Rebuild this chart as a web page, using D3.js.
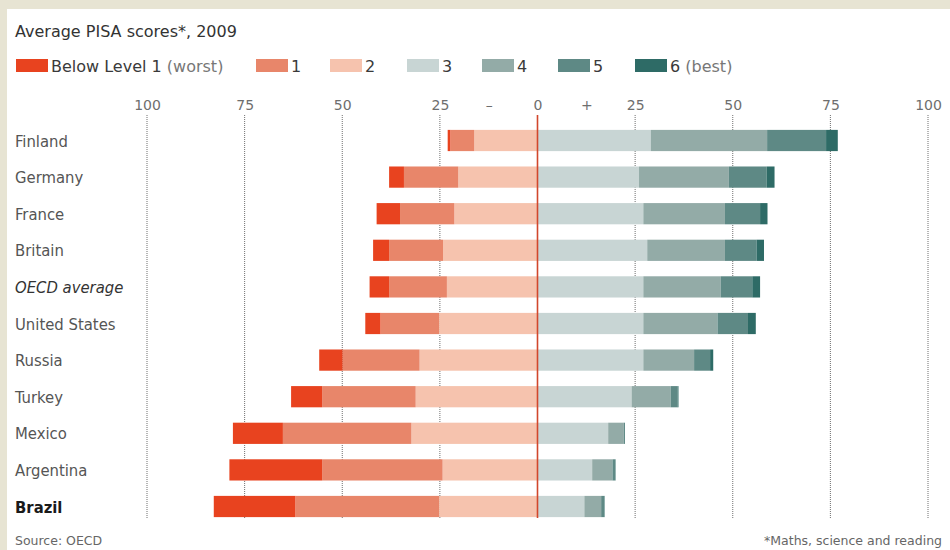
<!DOCTYPE html>
<html>
<head>
<meta charset="utf-8">
<script src="https://cdn.jsdelivr.net/npm/d3@7"></script>
<style>
  body { margin: 0; background: #e7e4d3; }
  svg { display: block; }
</style>
</head>
<body>
<script>
'use strict';

// share of students at each proficiency level, per cent
const countries = ["Finland", "Germany", "France", "Britain", "OECD average", "United States",
  "Russia", "Turkey", "Mexico", "Argentina", "Brazil"];
const belowLevel1 = [0.7, 3.8, 6.0, 4.1, 5.0, 3.9, 6.0, 8.0, 12.8, 23.8, 20.9];
const level1 = [6.1, 13.9, 13.9, 13.8, 14.8, 15.0, 19.7, 23.9, 32.9, 30.8, 36.8];
const level2 = [16.2, 20.3, 21.3, 24.2, 23.2, 25.2, 30.2, 31.2, 32.3, 24.3, 25.2];
const level3 = [29.0, 26.0, 27.1, 28.1, 27.1, 27.1, 27.1, 24.1, 18.1, 14.0, 12.0];
const level4 = [29.8, 23.0, 20.9, 19.9, 19.8, 19.0, 13.0, 10.0, 4.0, 5.2, 4.3];
const level5 = [15.1, 9.7, 9.0, 8.1, 8.1, 7.8, 4.1, 1.8, 0.3, 0.7, 0.8];
const level6 = [3.0, 2.0, 1.9, 1.9, 2.0, 2.0, 0.8, 0.2, 0.0, 0.1, 0.1];

const tickValues = [-100, -75, -50, -25, -12.5, 0, 12.5, 25, 50, 75, 100];
const tickLabels = ["100", "75", "50", "25", "\u2013", "0", "+", "25", "50", "75", "100"];
const gridValues = [-100, -75, -50, -25, 25, 50, 75, 100];

const legendLabels = ["Below Level 1", "1", "2", "3", "4", "5", "6"];
const legendNotes = ["(worst)", "", "", "", "", "", "(best)"];

const keys = ["b1", "l1", "l2", "l3", "l4", "l5", "l6"];
const colors = ["#e8431f", "#e8866a", "#f6c3ae", "#c8d5d4", "#93aba7", "#5e8985", "#2e6b66"];

const width = 950, height = 550;
const font = "'DejaVu Sans', sans-serif";
const condensed = "'DejaVu Sans Condensed', 'DejaVu Sans', sans-serif";

let svg = d3.select("body").append("svg")
  .attr("width", width)
  .attr("height", height);

// white panel over the textured page
svg.append("rect")
  .attr("x", 7).attr("y", 9)
  .attr("width", width - 7).attr("height", height - 9)
  .attr("fill", "#ffffff");

// rows for the stack, bad levels go negative
let rows = countries.map((c, i) => ({
  country: c,
  b1: -belowLevel1[i], l1: -level1[i], l2: -level2[i],
  l3: level3[i], l4: level4[i], l5: level5[i], l6: level6[i]
}));

let series = d3.stack()
  .keys(["l2", "l1", "b1", "l3", "l4", "l5", "l6"])
  .offset(d3.stackOffsetDiverging)(rows);

let color = d3.scaleOrdinal().domain(keys).range(colors);

let x = d3.scaleLinear().domain([-100, 100]).range([147, 928]);
let y = d3.scaleBand().domain(countries)
  .range([122.2, 524.8])
  .paddingInner(0.42)
  .paddingOuter(0.21);

let gridTop = 115, gridBottom = 518;

// dotted gridlines
svg.append("g")
  .selectAll("line")
  .data(gridValues)
  .enter()
  .append("line")
    .attr("x1", d => x(d)).attr("x2", d => x(d))
    .attr("y1", gridTop).attr("y2", gridBottom)
    .attr("stroke", "#6f6f6f")
    .attr("stroke-width", 1)
    .attr("stroke-dasharray", "1,1");

// top axis labels
let xAxis = d3.axisTop(x)
  .tickValues(tickValues)
  .tickSize(0)
  .tickPadding(0)
  .tickFormat((d, i) => tickLabels[i]);

let axisG = svg.append("g")
  .attr("transform", "translate(0, 110)")
  .call(xAxis);
axisG.select(".domain").remove();
axisG.selectAll("text")
  .attr("dy", 0)
  .style("font-family", font)
  .style("font-size", "14px")
  .attr("fill", "#6e6e6e");

// bars
svg.append("g")
  .selectAll("g")
  .data(series)
  .enter()
  .append("g")
    .attr("fill", d => color(d.key))
  .selectAll("rect")
  .data(d => d)
  .enter()
  .append("rect")
    .attr("x", d => x(d[0]))
    .attr("y", d => y(d.data.country))
    .attr("width", d => x(d[1]) - x(d[0]))
    .attr("height", y.bandwidth());

// zero line on top
svg.append("line")
  .attr("x1", x(0)).attr("x2", x(0))
  .attr("y1", gridTop).attr("y2", gridBottom)
  .attr("stroke", "#d2472c")
  .attr("stroke-width", 1.6);

// country labels
svg.append("g")
  .selectAll("text")
  .data(countries)
  .enter()
  .append("text")
    .attr("x", 15)
    .attr("y", d => y(d) + y.bandwidth() / 2 + 6)
    .style("font-family", condensed)
    .style("font-size", "16.5px")
    .style("font-style", d => d === "OECD average" ? "italic" : "normal")
    .style("font-weight", d => d === "Brazil" ? "bold" : "normal")
    .attr("fill", d => d === "Brazil" ? "#1a1a1a" : (d === "OECD average" ? "#333" : "#555"))
    .text(d => d);

// subtitle
svg.append("text")
  .attr("x", 15).attr("y", 37)
  .style("font-family", font)
  .style("font-size", "16px")
  .attr("fill", "#333")
  .text("Average PISA scores*, 2009");

// legend
let legendX = [16, 256, 330, 407, 482, 558, 635];
let legend = svg.append("g")
  .selectAll("g")
  .data(legendLabels)
  .enter()
  .append("g")
    .attr("transform", (d, i) => "translate(" + legendX[i] + ", 59)");

legend.append("rect")
  .attr("width", 32)
  .attr("height", 13)
  .attr("fill", (d, i) => colors[i]);

let legendText = legend.append("text")
  .attr("x", 35)
  .attr("y", 13)
  .style("font-family", font)
  .style("font-size", "16px")
  .attr("fill", "#3a3a3a");
legendText.append("tspan").text(d => d);
legendText.append("tspan")
  .attr("fill", "#777")
  .text((d, i) => legendNotes[i] ? " " + legendNotes[i] : "");

// footnotes
svg.append("text")
  .attr("x", 15).attr("y", 545)
  .style("font-family", font)
  .style("font-size", "12.5px")
  .attr("fill", "#666")
  .text("Source: OECD");

svg.append("text")
  .attr("x", 942).attr("y", 545)
  .attr("text-anchor", "end")
  .style("font-family", font)
  .style("font-size", "12.5px")
  .attr("fill", "#666")
  .text("*Maths, science and reading");
</script>
</body>
</html>
